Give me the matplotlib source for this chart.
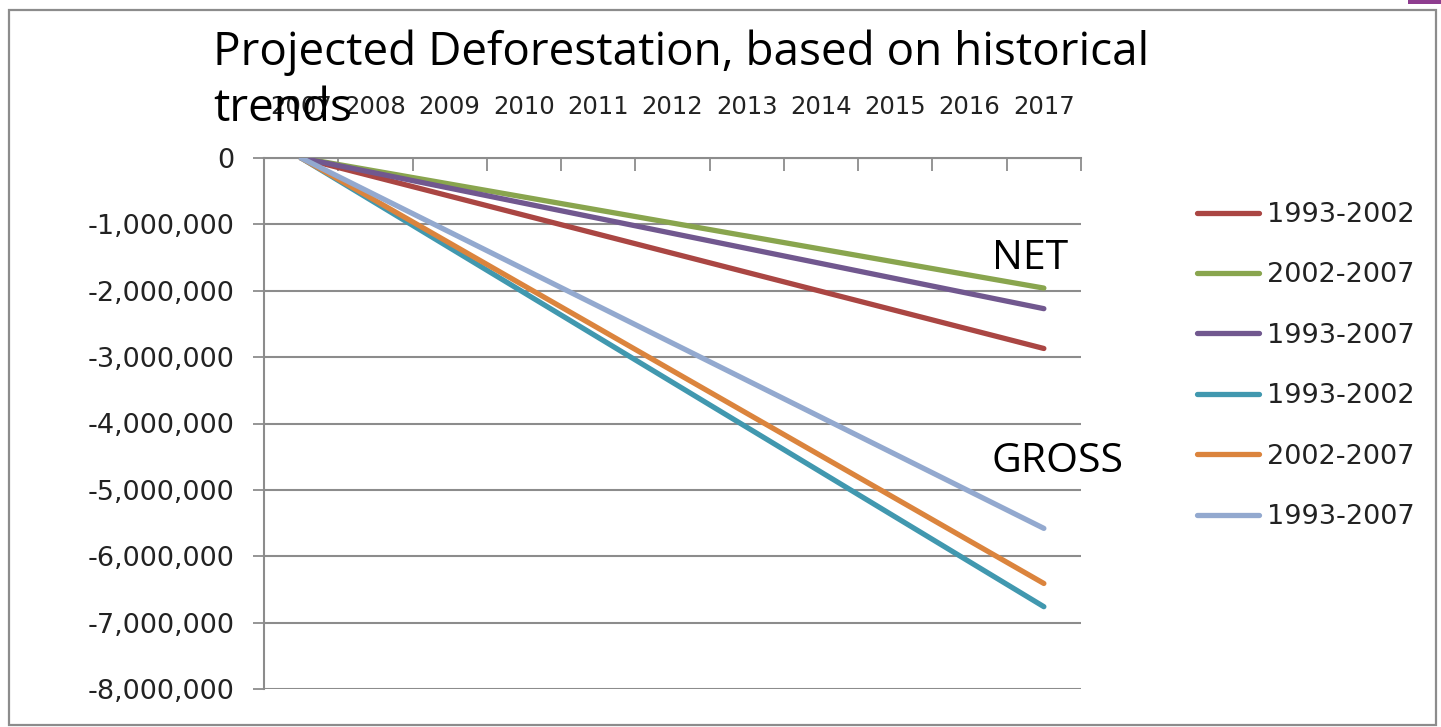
import matplotlib
matplotlib.use("Agg")
import matplotlib.pyplot as plt
from matplotlib.patches import Rectangle
from matplotlib.ticker import FixedLocator, FuncFormatter

# Projection years and cumulative forest loss (hectares) per reference period
years = ["2007", "2008", "2009", "2010", "2011", "2012",
         "2013", "2014", "2015", "2016", "2017"]

net_1993_2002 = [0, -287000, -574000, -861000, -1148000, -1435000,
                 -1722000, -2009000, -2296000, -2583000, -2870000]
net_2002_2007 = [0, -196000, -392000, -588000, -784000, -980000,
                 -1176000, -1372000, -1568000, -1764000, -1960000]
net_1993_2007 = [0, -227000, -454000, -681000, -908000, -1135000,
                 -1362000, -1589000, -1816000, -2043000, -2270000]
gross_1993_2002 = [0, -676000, -1352000, -2028000, -2704000, -3380000,
                   -4056000, -4732000, -5408000, -6084000, -6760000]
gross_2002_2007 = [0, -641000, -1282000, -1923000, -2564000, -3205000,
                   -3846000, -4487000, -5128000, -5769000, -6410000]
gross_1993_2007 = [0, -558000, -1116000, -1674000, -2232000, -2790000,
                   -3348000, -3906000, -4464000, -5022000, -5580000]

series_labels = ["1993-2002", "2002-2007", "1993-2007",
                 "1993-2002", "2002-2007", "1993-2007"]
series_values = [net_1993_2002, net_2002_2007, net_1993_2007,
                 gross_1993_2002, gross_2002_2007, gross_1993_2007]
series_colors = ["#AA4643", "#89A54E", "#71588F",
                 "#4198AF", "#DB843D", "#93A9CF"]

y_ticks = [0, -1000000, -2000000, -3000000, -4000000,
           -5000000, -6000000, -7000000, -8000000]

W, H = 1441, 727
fig = plt.figure(figsize=(W / 100, H / 100), dpi=100)
fig.patch.set_facecolor("white")

# outer chart frame and the small slide accent in the corner
fig.patches.append(Rectangle((9 / W, 1 - 725 / H), (1436 - 9) / W, (725 - 10) / H,
                             transform=fig.transFigure, fill=False,
                             edgecolor="#8c8c8c", linewidth=1.6, zorder=0))
fig.patches.append(Rectangle((1408 / W, 1 - 4 / H), 33 / W, 4 / H,
                             transform=fig.transFigure, facecolor="#8E3D8F",
                             edgecolor="none", zorder=0))

left, right, top, bottom = 264, 1081, 158, 689
ax = fig.add_axes([left / W, 1 - bottom / H, (right - left) / W, (bottom - top) / H])

x = list(range(len(years)))
for vals, lab, col in zip(series_values, series_labels, series_colors):
    ax.plot(x, vals, color=col, linewidth=3.8, label=lab,
            solid_capstyle="round", zorder=3)

ax.set_xlim(-0.5, len(years) - 0.5)
ax.set_ylim(-8000000, 0)

grey = "#8c8c8c"
# category axis sits on the zero line at the top
ax.xaxis.tick_top()
ax.set_xticks(x)
ax.set_xticklabels(years, fontsize=17.5, family="DejaVu Sans", color="#222222")
ax.xaxis.set_minor_locator(FixedLocator([i - 0.5 for i in range(len(years) + 1)]))
ax.tick_params(axis="x", which="major", length=0, pad=28)
ax.tick_params(axis="x", which="minor", direction="in", length=9,
               width=1.3, color=grey, top=True, bottom=False)

ax.yaxis.set_major_locator(FixedLocator(y_ticks))
ax.yaxis.set_major_formatter(FuncFormatter(
    lambda v, p: "0" if v == 0 else ("-" + format(int(round(-v)), ","))))
ax.tick_params(axis="y", direction="out", length=8, width=1.3, color=grey,
               labelsize=19.5, pad=13, labelcolor="#222222")

ax.grid(axis="y", color=grey, linewidth=1.5, zorder=1)
ax.set_axisbelow(True)
for side in ("right", "bottom"):
    ax.spines[side].set_visible(False)
for side in ("left", "top"):
    ax.spines[side].set_color(grey)
    ax.spines[side].set_linewidth(1.5)

leg = ax.legend(loc="center left", bbox_to_anchor=(1197 / W, 1 - 366 / H),
                bbox_transform=fig.transFigure, frameon=False,
                prop={"family": "DejaVu Sans", "size": 19.5},
                handlelength=2.3, handletextpad=0.3, labelspacing=1.27,
                borderpad=0, borderaxespad=0)
for t in leg.get_texts():
    t.set_color("#222222")

# annotations grouping the two families of projections
ax.text((992 - left) / (right - left), 1 - (269 - top) / (bottom - top), "NET",
        transform=ax.transAxes, family="Open Sans", fontsize=29.5, va="baseline",
        color="black")
ax.text((992 - left) / (right - left), 1 - (472 - top) / (bottom - top), "GROSS",
        transform=ax.transAxes, family="Open Sans", fontsize=29.5, va="baseline",
        color="black")

fig.text(213 / W, 1 - 121 / H,
         "Projected Deforestation, based on historical\ntrends",
         family="Open Sans", fontsize=33, va="baseline", ha="left",
         linespacing=1.3, color="black")

fig.savefig("out.png", dpi=100)
